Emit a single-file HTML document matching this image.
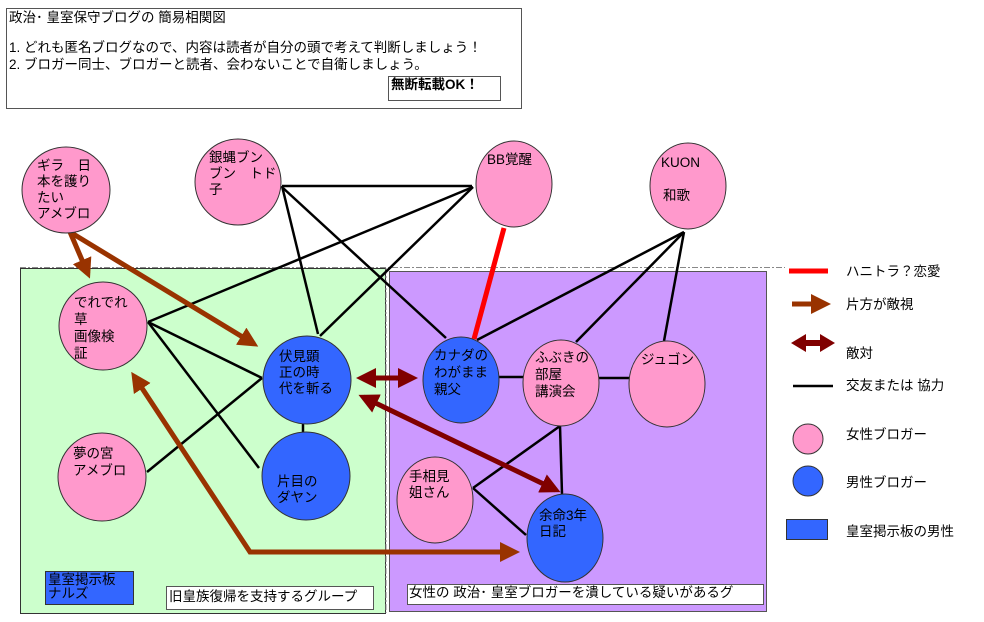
<!DOCTYPE html>
<html><head><meta charset="utf-8"><style>
html,body{margin:0;padding:0;background:#fff;}
svg{display:block;}
text{font-family:"Liberation Sans","Noto Sans CJK JP",sans-serif;font-size:13.5px;fill:#000;}
</style></head><body>
<svg width="984" height="622" viewBox="0 0 984 622" xmlns="http://www.w3.org/2000/svg">
<defs>
<marker id="ab" markerWidth="4" markerHeight="4" refX="3" refY="2" orient="auto" markerUnits="strokeWidth"><path d="M0,0 L4,2 L0,4 z" fill="#993300"/></marker>
<marker id="ab2" markerWidth="4" markerHeight="4" refX="3" refY="2" orient="auto-start-reverse" markerUnits="strokeWidth"><path d="M0,0 L4,2 L0,4 z" fill="#993300"/></marker>
<marker id="ad" markerWidth="4" markerHeight="4" refX="3" refY="2" orient="auto-start-reverse" markerUnits="strokeWidth"><path d="M0,0 L4,2 L0,4 z" fill="#800000"/></marker>
</defs>
<!-- header -->
<rect x="6.5" y="8.5" width="515" height="100" fill="#fff" stroke="#555"/>
<text x="9" y="22">政治･ 皇室保守ブログの 簡易相関図</text>
<text x="9" y="52">1. どれも匿名ブログなので、内容は読者が自分の頭で考えて判断しましょう！</text>
<text x="9" y="69">2. ブロガー同士、ブロガーと読者、会わないことで自衛しましょう。</text>
<rect x="388.5" y="76.5" width="112" height="24" fill="#fff" stroke="#555"/>
<text x="391" y="89" font-weight="bold">無断転載OK！</text>
<!-- regions -->
<line x1="20" y1="267.5" x2="785" y2="267.5" stroke="#888" stroke-dasharray="6,2,2,2"/>
<rect x="20.5" y="268.5" width="365" height="345" fill="#ccffcc" stroke="#333"/>
<line x1="386" y1="268" x2="386" y2="613" stroke="#888" stroke-dasharray="6,2,2,2"/>
<rect x="389.5" y="271.5" width="377" height="340" fill="#cc99ff" stroke="#555"/>
<rect x="45.5" y="571.5" width="88" height="33" fill="#3366ff" stroke="#333"/>
<text x="48" y="584">皇室掲示板</text><text x="48" y="598">ナルズ</text>
<rect x="166.5" y="586.5" width="207" height="23" fill="#fff" stroke="#555"/>
<text x="169" y="601">旧皇族復帰を支持するグループ</text>
<rect x="407.5" y="584.5" width="356" height="20" fill="#fff" stroke="#555"/>
<text x="409" y="597">女性の 政治･ 皇室ブロガーを潰している疑いがあるグ</text>
<!-- black lines -->
<g stroke="#000" stroke-width="2.5" fill="none">
<line x1="282" y1="186" x2="472" y2="186"/>
<line x1="282" y1="186" x2="318" y2="334"/>
<line x1="283" y1="188" x2="446" y2="338"/>
<line x1="473" y1="187" x2="148" y2="322"/>
<line x1="473" y1="187" x2="320" y2="336"/>
<line x1="148" y1="322" x2="262" y2="378"/>
<line x1="148" y1="322" x2="259" y2="468"/>
<line x1="147" y1="472" x2="262" y2="378"/>
<line x1="303" y1="423" x2="303" y2="434"/>
<line x1="684" y1="232" x2="477" y2="340"/>
<line x1="684" y1="232" x2="576" y2="342"/>
<line x1="684" y1="232" x2="664" y2="341"/>
<line x1="499" y1="377" x2="523" y2="377"/>
<line x1="599" y1="378" x2="629" y2="378"/>
<line x1="560" y1="426" x2="473" y2="488"/>
<line x1="560" y1="426" x2="562" y2="494"/>
<line x1="473" y1="488" x2="526" y2="535"/>
</g>
<line x1="504" y1="228" x2="474" y2="339" stroke="#ff0000" stroke-width="5"/>
<!-- brown arrows -->
<g stroke="#993300" stroke-width="5" fill="none">
<line x1="70" y1="232" x2="88" y2="274" marker-end="url(#ab)"/>
<line x1="70" y1="232" x2="254" y2="344" marker-end="url(#ab)"/>
<polyline points="134,376 250,552 515,552" marker-start="url(#ab2)" marker-end="url(#ab2)"/>
</g>
<g stroke="#800000" stroke-width="5" fill="none">
<line x1="361" y1="378" x2="413" y2="378" marker-start="url(#ad)" marker-end="url(#ad)"/>
<line x1="363" y1="397" x2="556" y2="490" marker-start="url(#ad)" marker-end="url(#ad)"/>
</g>
<!-- circles -->
<g stroke="#333" stroke-width="1">
<ellipse cx="66" cy="190" rx="44" ry="43" fill="#ff99cc"/>
<ellipse cx="238" cy="182" rx="43" ry="43" fill="#ff99cc"/>
<ellipse cx="514" cy="184" rx="38" ry="43" fill="#ff99cc"/>
<ellipse cx="688" cy="186" rx="38" ry="43" fill="#ff99cc"/>
<ellipse cx="103" cy="326" rx="44" ry="44" fill="#ff99cc"/>
<ellipse cx="102" cy="477" rx="44" ry="44" fill="#ff99cc"/>
<ellipse cx="307" cy="380" rx="44" ry="44" fill="#3366ff"/>
<ellipse cx="306" cy="476" rx="44" ry="44" fill="#3366ff"/>
<ellipse cx="461" cy="380" rx="38" ry="43" fill="#3366ff"/>
<ellipse cx="561" cy="383" rx="38" ry="43" fill="#ff99cc"/>
<ellipse cx="667" cy="384" rx="38" ry="43" fill="#ff99cc"/>
<ellipse cx="435" cy="500" rx="38" ry="43" fill="#ff99cc"/>
<ellipse cx="565" cy="538" rx="38" ry="44" fill="#3366ff"/>
</g>
<text x="37" y="170">ギラ　日</text><text x="37" y="186">本を護り</text><text x="37" y="202">たい</text><text x="37" y="218">アメブロ</text>
<text x="209" y="162">銀蝿ブン</text><text x="209" y="178">ブン　トド</text><text x="209" y="194">子</text>
<text x="487" y="164">BB覚醒</text>
<text x="661" y="167">KUON</text><text x="663" y="200">和歌</text>
<text x="74" y="307">でれでれ</text><text x="74" y="324">草</text><text x="74" y="341">画像検</text><text x="74" y="358">証</text>
<text x="73" y="458">夢の宮</text><text x="73" y="475">アメブロ</text>
<text x="279" y="361">伏見顕</text><text x="279" y="377">正の時</text><text x="279" y="393">代を斬る</text>
<text x="277" y="486">片目の</text><text x="277" y="502">ダヤン</text>
<text x="434" y="360">カナダの</text><text x="434" y="377">わがまま</text><text x="434" y="394">親父</text>
<text x="535" y="362">ふぶきの</text><text x="535" y="379">部屋</text><text x="535" y="396">講演会</text>
<text x="641" y="364">ジュゴン</text>
<text x="409" y="481">手相見</text><text x="409" y="497">姐さん</text>
<text x="539" y="520">余命3年</text><text x="539" y="536">日記</text>
<!-- legend -->
<line x1="789" y1="271" x2="828" y2="271" stroke="#ff0000" stroke-width="5"/>
<text x="846" y="276">ハニトラ？恋愛</text>
<line x1="792" y1="304" x2="826" y2="304" stroke="#993300" stroke-width="5" marker-end="url(#ab)"/>
<text x="846" y="309">片方が敵視</text>
<polygon points="791,343 806,334 806,340 820,340 820,334 835,343 820,352 820,346 806,346 806,352" fill="#800000"/>
<text x="846" y="358">敵対</text>
<line x1="793" y1="386" x2="833" y2="386" stroke="#000" stroke-width="2.5"/>
<text x="846" y="390">交友または 協力</text>
<ellipse cx="808" cy="439" rx="15" ry="15" fill="#ff99cc" stroke="#333"/>
<text x="846" y="439">女性ブロガー</text>
<ellipse cx="808" cy="481" rx="15" ry="15" fill="#3366ff" stroke="#333"/>
<text x="846" y="487">男性ブロガー</text>
<rect x="786.5" y="519.5" width="41" height="20" fill="#3366ff" stroke="#333"/>
<text x="846" y="536">皇室掲示板の男性</text>
</svg>
</body></html>
